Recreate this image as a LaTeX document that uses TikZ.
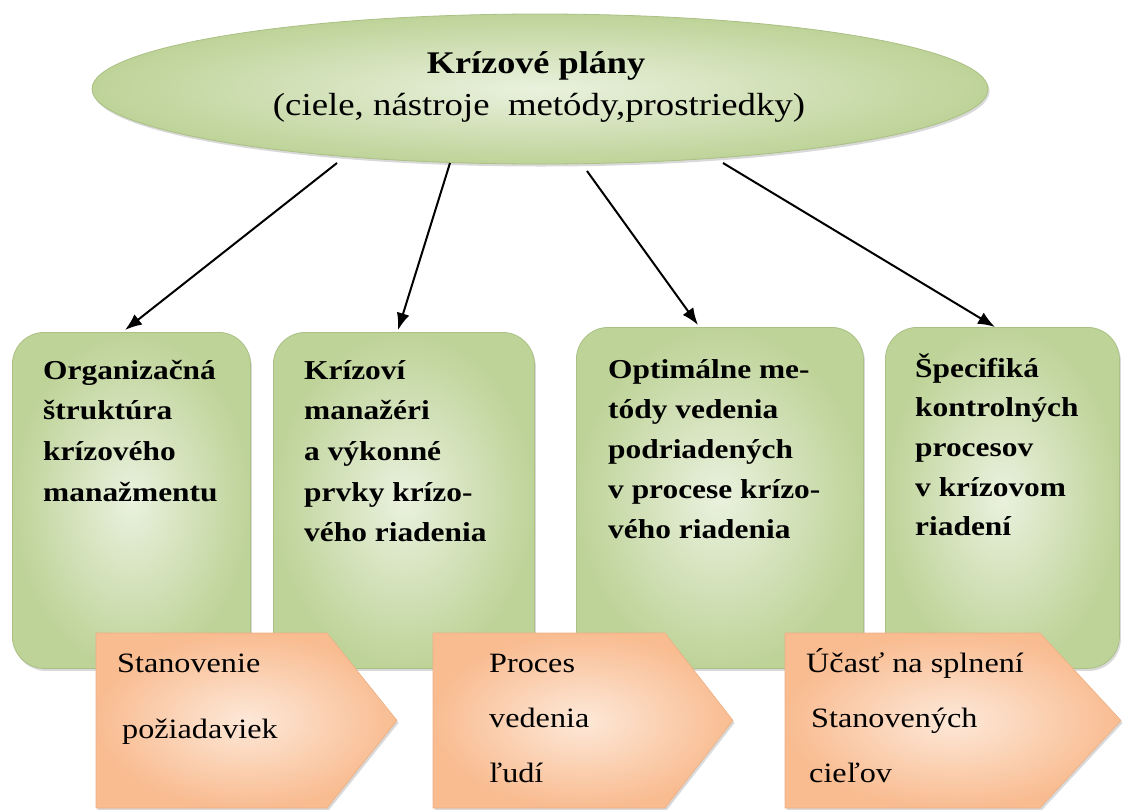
\documentclass[tikz,border=0pt]{standalone}
\usepackage{fontspec}
\setmainfont{Liberation Serif}[FakeStretch=1.15]
\usetikzlibrary{shapes.geometric,shadows,arrows.meta,calc}
\definecolor{gIn}{RGB}{234,241,222}
\definecolor{gOut}{RGB}{190,211,152}
\definecolor{gEdge}{RGB}{170,192,132}
\definecolor{oIn}{RGB}{253,232,216}
\definecolor{oOut}{RGB}{249,188,145}
\definecolor{oEdge}{RGB}{236,176,132}
\begin{document}
\begin{tikzpicture}[x=1pt,y=-1pt,
  shad/.style={drop shadow={shadow xshift=1.5pt,shadow yshift=-2.5pt,opacity=0.3}},
  ell/.style={ellipse,inner sep=0pt,minimum width=896pt,minimum height=150pt,
    draw=gEdge,line width=0.8pt,inner color=gIn,outer color=gOut,shad},
  gbox/.style={rectangle,rounded corners=32pt,inner sep=0pt,anchor=north west,
    draw=gEdge,line width=0.8pt,inner color=gIn,outer color=gOut,shad},
  pent/.style={draw=oEdge,line width=0.6pt,inner color=oIn,outer color=oOut,shad},
  btxt/.style={anchor=base west,inner sep=0pt,font=\fontsize{27.3}{30}\selectfont\bfseries},
  ptxt/.style={anchor=base west,inner sep=0pt,font=\fontsize{28}{30}\selectfont},
  ttl/.style={anchor=base,inner sep=0pt},
  arr/.style={-{Latex[length=17pt,width=13pt]},line width=2pt}]
\useasboundingbox (0,0) rectangle (1123,809);
% top ellipse
\node[ell] (plan) at (540,89) {};
\node[ttl,font=\fontsize{31.5}{34}\selectfont\bfseries] (t1) at ($(plan.center)+(-4,-16)$) {Krízové plány};
\node[ttl,font=\fontsize{32}{34}\selectfont] (t2) at ($(plan.center)+(-1,26)$) {(ciele, nástroje\ \ metódy,prostriedky)};
% green boxes
\node[gbox,minimum width=238pt,minimum height=336pt] (b1) at (12,332) {};
\node[gbox,minimum width=261pt,minimum height=336pt] (b2) at (273,332) {};
\node[gbox,minimum width=287pt,minimum height=341pt] (b3) at (576,327) {};
\node[gbox,minimum width=234pt,minimum height=341pt] (b4) at (885,327) {};
\foreach \s [count=\i] in {Organizačná,štruktúra,krízového,manažmentu}
  \node[btxt] (b1t\i) at (43,{379+40.7*(\i-1)}) {\s};
\foreach \s [count=\i] in {Krízoví,manažéri,a výkonné,prvky krízo-,vého riadenia}
  \node[btxt] (b2t\i) at (304,{379+40.7*(\i-1)}) {\s};
\foreach \s [count=\i] in {Optimálne me-,tódy vedenia,podriadených,v procese krízo-,vého riadenia}
  \node[btxt] (b3t\i) at (608,{378+40*(\i-1)}) {\s};
\foreach \s [count=\i] in {Špecifiká,kontrolných,procesov,v krízovom,riadení}
  \node[btxt] (b4t\i) at (915,{377+39.7*(\i-1)}) {\s};
% arrows
\draw[arr] ($(plan.center)+(-203,74)$) -- ($(b1.north west)+(113,-2)$);
\draw[arr] ($(plan.center)+(-90,74)$) -- ($(b2.north west)+(125,-2)$);
\draw[arr] ($(plan.center)+(47,82)$) -- ($(b3.north west)+(122,-2)$);
\draw[arr] ($(plan.center)+(183,74)$) -- ($(b4.north west)+(110,0)$);
% orange pentagons
\path[pent] (96,633) -- (327,633) -- (397,720.5) -- (327,808) -- (96,808) -- cycle;
\path[pent] (433,633) -- (665,633) -- (733,720.5) -- (665,808) -- (433,808) -- cycle;
\path[pent] (785,633) -- (1040,633) -- (1121,720.5) -- (1040,808) -- (785,808) -- cycle;
\node[ptxt] (p1a) at (117,672) {Stanovenie};
\node[ptxt] (p1b) at (122,738) {požiadaviek};
\node[ptxt] (p2a) at (489,672) {Proces};
\node[ptxt] (p2b) at (489,727) {vedenia};
\node[ptxt] (p2c) at (489,782) {ľudí};
\node[ptxt] (p3a) at (806,672) {Účasť na splnení};
\node[ptxt] (p3b) at (811,727) {Stanovených};
\node[ptxt] (p3c) at (809,782) {cieľov};
\end{tikzpicture}
\end{document}
